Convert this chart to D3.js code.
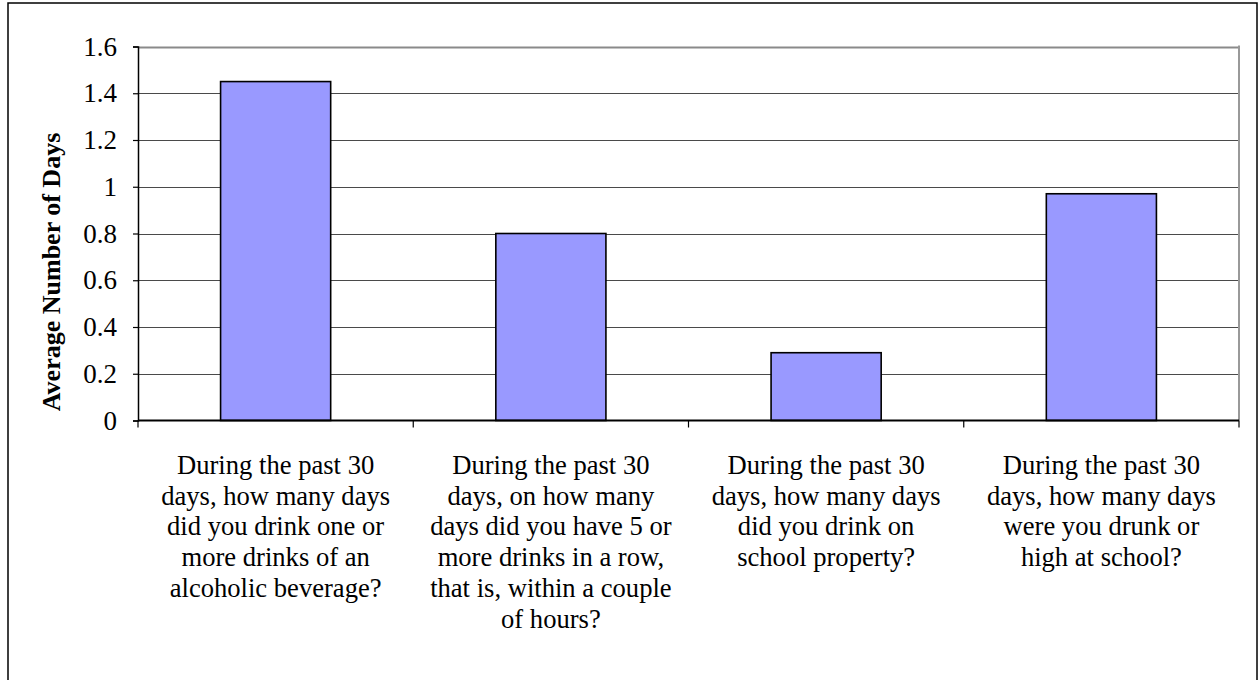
<!DOCTYPE html>
<html>
<head>
<meta charset="utf-8">
<script src="https://cdn.jsdelivr.net/npm/d3@7"></script>
<style>
  html, body { margin: 0; padding: 0; background: #fff; }
  svg { display: block; }
  text { font-family: "Liberation Serif", "Times New Roman", serif; fill: #000; }
</style>
</head>
<body>
<svg id="chart" width="1259" height="680"></svg>
<script>
// Survey questions (x-axis categories), one label per line
const categories = [
  ["During the past 30", "days, how many days", "did you drink one or", "more drinks of an", "alcoholic beverage?"],
  ["During the past 30", "days, on how many", "days did you have 5 or", "more drinks in a row,", "that is, within a couple", "of hours?"],
  ["During the past 30", "days, how many days", "did you drink on", "school property?"],
  ["During the past 30", "days, how many days", "were you drunk or", "high at school?"]
];
// Average number of days per question
const values = [1.45, 0.80, 0.29, 0.97];
// Y-axis ticks
const yTicks = [0, 0.2, 0.4, 0.6, 0.8, 1, 1.2, 1.4, 1.6];
const yTitle = "Average Number of Days";

const svg = d3.select("#chart");
const plot = { left: 138, right: 1239, top: 46.5, bottom: 420.5 };

// Outer chart frame (bottom edge falls outside the canvas)
svg.append("rect")
  .attr("x", 8).attr("y", 3)
  .attr("width", 1249).attr("height", 700)
  .attr("fill", "#fff").attr("stroke", "#000").attr("stroke-width", 1.5);

const x = d3.scaleBand()
  .domain(d3.range(categories.length))
  .range([plot.left, plot.right])
  .paddingInner(0).paddingOuter(0);

const y = d3.scaleLinear().domain([0, 1.6]).range([plot.bottom, plot.top]);

// Horizontal gridlines
svg.append("g")
  .selectAll("line")
  .data(yTicks.filter(d => d > 0))
  .join("line")
  .attr("x1", plot.left).attr("x2", plot.right)
  .attr("y1", d => Math.round(y(d)) + 0.5).attr("y2", d => Math.round(y(d)) + 0.5)
  .attr("stroke", d => d === 1.6 ? "#8a8a8a" : "#4a4a4a")
  .attr("stroke-width", d => d === 1.6 ? 2 : 1.2);

// Right plot border
svg.append("line")
  .attr("x1", plot.right).attr("x2", plot.right)
  .attr("y1", plot.top - 1).attr("y2", plot.bottom)
  .attr("stroke", "#999").attr("stroke-width", 2);

// Bars: width = band / 2.5 (gap of 150%)
const barW = x.bandwidth() / 2.5;
svg.append("g")
  .selectAll("rect")
  .data(values)
  .join("rect")
  .attr("x", (d, i) => x(i) + (x.bandwidth() - barW) / 2)
  .attr("width", barW)
  .attr("y", d => y(d))
  .attr("height", d => y(0) - y(d))
  .attr("fill", "#9999ff")
  .attr("stroke", "#000")
  .attr("stroke-width", 1.6);

// Y axis
const yAxis = d3.axisLeft(y)
  .tickValues(yTicks)
  .tickFormat(d => d3.format("")(+d.toFixed(1)))
  .tickSize(5)
  .tickPadding(16);
const gy = svg.append("g")
  .attr("transform", `translate(${plot.left},0)`)
  .call(yAxis);
gy.select(".domain").attr("stroke", "#000").attr("stroke-width", 1.5);
gy.selectAll(".tick line").attr("stroke", "#000").attr("stroke-width", 1.2);
gy.selectAll(".tick text")
  .attr("font-family", "Liberation Serif, Times New Roman, serif")
  .attr("font-size", 27)
  .attr("fill", "#000");

// X axis with ticks at category boundaries
const gx = svg.append("g")
  .attr("transform", `translate(0,${plot.bottom})`);
gx.append("line")
  .attr("x1", plot.left).attr("x2", plot.right)
  .attr("y1", 0).attr("y2", 0)
  .attr("stroke", "#000").attr("stroke-width", 1.8);
gx.selectAll("line.tick")
  .data(d3.range(categories.length + 1))
  .join("line")
  .attr("class", "tick")
  .attr("x1", i => i < categories.length ? x(i) : plot.right)
  .attr("x2", i => i < categories.length ? x(i) : plot.right)
  .attr("y1", 0).attr("y2", 7)
  .attr("stroke", "#000").attr("stroke-width", 1.2);

// Category labels (multi-line, centred under each bar)
const lineH = 30.7;
gx.selectAll("text.cat")
  .data(categories)
  .join("text")
  .attr("class", "cat")
  .attr("font-size", 26.6)
  .attr("text-anchor", "middle")
  .attr("transform", (d, i) => `translate(${x(i) + x.bandwidth() / 2},${53.5})`)
  .selectAll("tspan")
  .data(d => d)
  .join("tspan")
  .attr("x", 0)
  .attr("y", (d, j) => j * lineH)
  .text(d => d);

// Y axis title
svg.append("text")
  .attr("transform", `translate(60,272) rotate(-90)`)
  .attr("text-anchor", "middle")
  .attr("font-size", 26)
  .attr("font-weight", "bold")
  .text(yTitle);
</script>
</body>
</html>
